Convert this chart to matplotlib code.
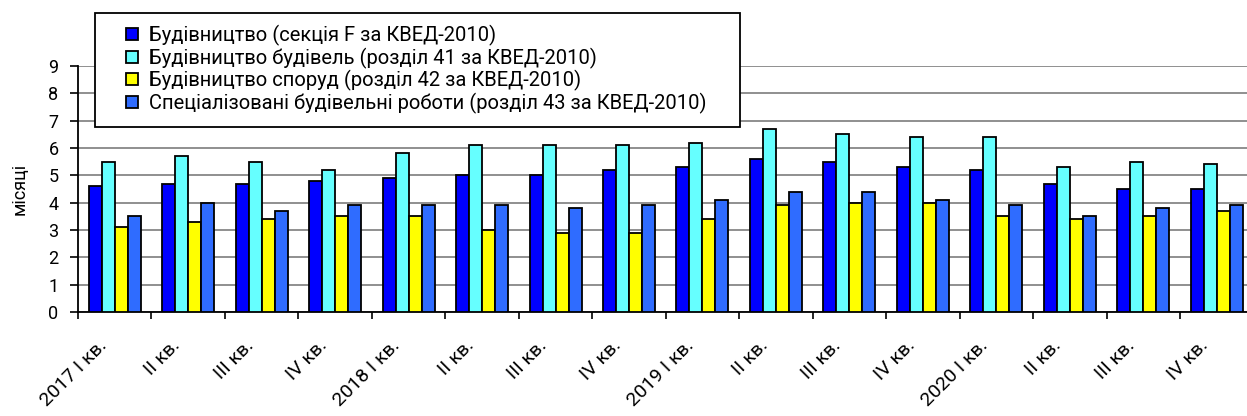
import matplotlib
matplotlib.use("Agg")
import matplotlib.pyplot as plt
import matplotlib.transforms as mtransforms
from matplotlib.patches import Rectangle
from matplotlib.legend_handler import HandlerPatch
import numpy as np

plt.rcParams['font.family'] = ['Roboto', 'DejaVu Sans']

quarters = ["2017 I кв.", "II кв.", "III кв.", "IV кв.",
            "2018 I кв.", "II кв.", "III кв.", "IV кв.",
            "2019 I кв.", "II кв.", "III кв.", "IV кв.",
            "2020 I кв.", "II кв.", "III кв.", "IV кв."]

series_names = ["Будівництво (секція F за КВЕД-2010)",
                "Будівництво будівель (розділ 41 за КВЕД-2010)",
                "Будівництво споруд (розділ 42 за КВЕД-2010)",
                "Спеціалізовані будівельні роботи (розділ 43 за КВЕД-2010)"]

section_f = [4.6, 4.7, 4.7, 4.8, 4.9, 5.0, 5.0, 5.2, 5.3, 5.6, 5.5, 5.3, 5.2, 4.7, 4.5, 4.5]
sect_41 = [5.5, 5.7, 5.5, 5.2, 5.8, 6.1, 6.1, 6.1, 6.2, 6.7, 6.5, 6.4, 6.4, 5.3, 5.5, 5.4]
sect_42 = [3.1, 3.3, 3.4, 3.5, 3.5, 3.0, 2.9, 2.9, 3.4, 3.9, 4.0, 4.0, 3.5, 3.4, 3.5, 3.7]
sect_43 = [3.5, 4.0, 3.7, 3.9, 3.9, 3.9, 3.8, 3.9, 4.1, 4.4, 4.4, 4.1, 3.9, 3.5, 3.8, 3.9]

colors = ["#0000FF", "#66FFFF", "#FFFF00", "#2F6CFF"]


class SquareHandler(HandlerPatch):
    # small square pushed to the right end of the handle box
    def create_artists(self, legend, orig_handle, xdescent, ydescent,
                       width, height, fontsize, trans):
        s = 8.6
        src = orig_handle.patches[0]
        p = Rectangle((width - s - xdescent - 1.5, (height - s) / 2 - ydescent), s, s,
                      facecolor=src.get_facecolor(), edgecolor="black", linewidth=1.3)
        p.set_transform(trans)
        return [p]


fig = plt.figure(figsize=(12.47, 4.16), dpi=100)
ax = fig.add_axes([78/1247, 104/416, 1175.5/1247, 246/416])

x = np.arange(len(quarters))
w = 0.177
all_series = [section_f, sect_41, sect_42, sect_43]
bars = []
for i, vals in enumerate(all_series):
    b = ax.bar(x + (i - 1.5) * w, vals, width=w, color=colors[i], edgecolor="black",
               linewidth=1.3, label=series_names[i], zorder=3)
    bars.append(b)

ax.set_xlim(-0.5, len(quarters) - 0.5)
ax.set_ylim(0, 9)
ax.set_yticks(range(0, 10))
ax.yaxis.grid(True, color="#8f8f8f", linewidth=1.4, zorder=0)
ax.set_axisbelow(True)

ax.set_xticks(x)
ax.set_xticklabels(quarters, rotation=45, ha="right", va="center",
                   rotation_mode="anchor", fontsize=14)
ax.tick_params(axis="x", which="major", length=0, pad=22)
shift = mtransforms.ScaledTranslation(-11/100, 0, fig.dpi_scale_trans)
for lab in ax.get_xticklabels():
    lab.set_transform(lab.get_transform() + shift)
ax.set_xticks(np.arange(-0.5, len(quarters), 1.0), minor=True)
ax.tick_params(axis="x", which="minor", length=5, width=1.2, direction="out")
ax.tick_params(axis="y", length=6, width=1.2, labelsize=13, pad=8)

for s in ["top", "right"]:
    ax.spines[s].set_visible(False)
ax.spines["left"].set_linewidth(1.3)
ax.spines["bottom"].set_linewidth(1.3)

ax.set_ylabel("місяці", fontsize=13, labelpad=14)

# legend frame drawn separately so the box gets the wide side margins
frame = Rectangle((95/1247, 1 - 126.7/416), (740 - 95)/1247, 114/416,
                  transform=fig.transFigure, facecolor="white", edgecolor="black",
                  linewidth=1.3, zorder=4)
fig.add_artist(frame)

handler = SquareHandler()
leg = fig.legend(handles=bars, labels=series_names, loc="upper left",
                 bbox_to_anchor=(99/1247, 1 - 16/416), borderaxespad=0,
                 fontsize=14.5, frameon=False,
                 handlelength=1.6, handleheight=0.7, handletextpad=0.45,
                 borderpad=0.45, labelspacing=0.07,
                 handler_map={b: handler for b in bars})
leg.set_zorder(5)

fig.savefig("out.png", dpi=100)
